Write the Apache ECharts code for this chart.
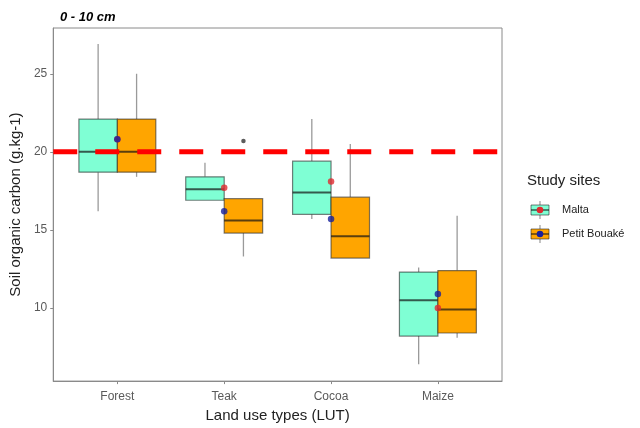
<!DOCTYPE html>
<html><head><meta charset="utf-8">
<script src="https://cdn.jsdelivr.net/npm/echarts@6/dist/echarts.min.js"></script>
<style>html,body{margin:0;padding:0;background:#fff}#c{width:640px;height:428px}</style>
</head><body><div id="c"></div>
<script>
const categories = ['Forest', 'Teak', 'Cocoa', 'Maize'];
const seriesNames = ['Malta', 'Petit Bouaké'];
// [min, Q1, median, Q3, max]
const maltaBox = [
  [16.2, 18.7, 20.0, 22.1, 26.9],
  [16.9, 16.9, 17.6, 18.4, 19.3],
  [15.7, 16.0, 17.4, 19.4, 22.1],
  [6.4, 8.2, 10.5, 12.3, 12.6]
];
const bouakeBox = [
  [18.4, 18.7, 20.0, 22.1, 25.0],
  [13.3, 14.8, 15.6, 17.0, 17.0],
  [13.2, 13.2, 14.6, 17.1, 20.5],
  [8.1, 8.4, 9.9, 12.4, 15.9]
];
const maltaMean = [20.8, 17.7, 18.1, 10.0];
const bouakeMean = [20.8, 16.2, 15.7, 10.9];
const bouakeOutliers = [[2, 20.7]]; // [category number, value]
const referenceValue = 20;
const yTicks = [10, 15, 20, 25];
const titleText = '0 - 10 cm';
const xTitle = 'Land use types (LUT)';
const yTitle = 'Soil organic carbon (g.kg-1)';
const legendTitle = 'Study sites';

const fills = ['#7FFFD4', '#FFA500'];
const dotColors = ['#e02a30', '#17209c'];
const HALF = 0.18, OFF = 0.18;

function boxRender(offset, fill) {
  return function (params, api) {
    const x = api.value(0) + offset;
    const pMin = api.coord([x, api.value(1)]);
    const pQ1 = api.coord([x, api.value(2)]);
    const pMed = api.coord([x, api.value(3)]);
    const pQ3 = api.coord([x, api.value(4)]);
    const pMax = api.coord([x, api.value(5)]);
    const l = api.coord([x - HALF, api.value(4)]);
    const r = api.coord([x + HALF, api.value(2)]);
    const w = { stroke: '#9a9a9a', lineWidth: 1.3 };
    return {
      type: 'group',
      children: [
        { type: 'line', shape: { x1: pMax[0], y1: pMax[1], x2: pQ3[0], y2: pQ3[1] }, style: w },
        { type: 'line', shape: { x1: pQ1[0], y1: pQ1[1], x2: pMin[0], y2: pMin[1] }, style: w },
        { type: 'rect', shape: { x: l[0], y: l[1], width: r[0] - l[0], height: r[1] - l[1] },
          style: { fill: fill, stroke: 'rgba(40,40,40,0.6)', lineWidth: 1.2 } },
        { type: 'line', shape: { x1: l[0], y1: pMed[1], x2: r[0], y2: pMed[1] },
          style: { stroke: 'rgba(20,20,20,0.7)', lineWidth: 2 } }
      ]
    };
  };
}

const maltaData = maltaBox.map((b, i) => [i + 1].concat(b));
const bouakeData = bouakeBox.map((b, i) => [i + 1].concat(b));

const chart = echarts.init(document.getElementById('c'));
const tickFont = { fontFamily: 'Liberation Sans', fontSize: 12, color: '#5a5a5a' };

function legendKey(y, fill, dot) {
  return [
    { type: 'line', shape: { x1: 540, y1: y - 9, x2: 540, y2: y + 9 }, style: { stroke: '#9a9a9a', lineWidth: 1.2 } },
    { type: 'rect', shape: { x: 531, y: y - 5, width: 18, height: 10 }, style: { fill: fill, stroke: 'rgba(40,40,40,0.6)', lineWidth: 1 } },
    { type: 'line', shape: { x1: 531, y1: y, x2: 549, y2: y }, style: { stroke: 'rgba(20,20,20,0.7)', lineWidth: 1.5 } },
    { type: 'circle', shape: { cx: 540, cy: y, r: 3.3 }, style: { fill: dot } }
  ];
}

chart.setOption({
  animation: false,
  backgroundColor: '#fff',
  title: {
    text: titleText, left: 55, top: 6,
    textStyle: { fontFamily: 'Liberation Sans', fontSize: 13, fontStyle: 'italic', fontWeight: 'bold', color: '#000' }
  },
  grid: { left: 51, top: 28, right: 138, bottom: 44, show: true, borderColor: '#8a8a8a', borderWidth: 1, backgroundColor: '#fff' },
  xAxis: {
    type: 'value', min: 0.4, max: 4.6,
    name: xTitle, nameLocation: 'middle', nameGap: 26,
    nameTextStyle: { fontFamily: 'Liberation Sans', fontSize: 15, color: '#222' },
    axisLine: { show: true, lineStyle: { color: '#8a8a8a' } },
    axisTick: { show: true, length: 3, customValues: [1, 2, 3, 4], lineStyle: { color: '#8a8a8a' } },
    axisLabel: Object.assign({ customValues: [1, 2, 3, 4], margin: 10,
      formatter: v => categories[Math.round(v) - 1] || '' }, tickFont),
    splitLine: { show: false }
  },
  yAxis: {
    type: 'value', min: 5.32, max: 27.93,
    name: yTitle, nameLocation: 'middle', nameGap: 24,
    nameTextStyle: { fontFamily: 'Liberation Sans', fontSize: 15, color: '#222' },
    axisLine: { show: true, lineStyle: { color: '#8a8a8a' } },
    axisTick: { show: true, length: 3, customValues: yTicks, lineStyle: { color: '#8a8a8a' } },
    axisLabel: Object.assign({ customValues: yTicks, margin: 6 }, tickFont),
    splitLine: { show: false }
  },
  series: [
    { name: seriesNames[0], type: 'custom', renderItem: boxRender(-OFF, fills[0]), data: maltaData, z: 2,
      encode: { x: 0, y: [1, 2, 3, 4, 5] } },
    { name: seriesNames[1], type: 'custom', renderItem: boxRender(OFF, fills[1]), data: bouakeData, z: 2,
      encode: { x: 0, y: [1, 2, 3, 4, 5] } },
    { name: 'outliers', type: 'scatter', data: bouakeOutliers.map(o => [o[0] + OFF, o[1]]), symbolSize: 4.5,
      itemStyle: { color: '#333' }, z: 3 },
    { name: seriesNames[0] + ' mean', type: 'scatter', data: maltaMean.map((v, i) => [i + 1, v]), symbolSize: 6.5,
      itemStyle: { color: dotColors[0] }, z: 4 },
    { name: seriesNames[1] + ' mean', type: 'scatter', data: bouakeMean.map((v, i) => [i + 1, v]), symbolSize: 6.5,
      itemStyle: { color: dotColors[1] }, z: 5 },
    { name: 'reference', type: 'line', data: [[0.4, referenceValue], [4.6, referenceValue]], symbol: 'none',
      lineStyle: { color: '#ff0000', width: 5, type: [24, 18], cap: 'butt' }, z: 6 }
  ],
  graphic: [
    { type: 'text', left: 527, top: 173, style: { text: legendTitle, font: '15px "Liberation Sans"', fill: '#222' } },
    { type: 'group', children: legendKey(210, fills[0], dotColors[0]) },
    { type: 'group', children: legendKey(234, fills[1], dotColors[1]) },
    { type: 'text', left: 562, top: 204, style: { text: seriesNames[0], font: '11px "Liberation Sans"', fill: '#222' } },
    { type: 'text', left: 562, top: 228, style: { text: seriesNames[1], font: '11px "Liberation Sans"', fill: '#222' } }
  ]
});
</script></body></html>
